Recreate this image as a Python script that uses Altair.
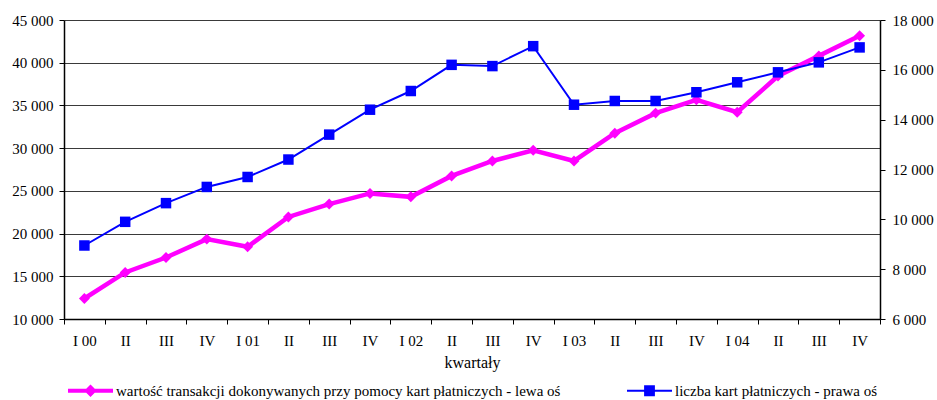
import altair as alt
import pandas as pd

quarters = ["I 00", "II", "III", "IV", "I 01", "II", "III", "IV", "I 02", "II", "III", "IV",
            "I 03", "II", "III", "IV", "I 04", "II", "III", "IV"]
transaction_value = [12400, 15450, 17200, 19350, 18450, 21950, 23450, 24700, 24300, 26750,
                     28500, 29750, 28500, 31750, 34100, 35650, 34200, 38450, 40800, 43150]
card_count = [8950, 9900, 10650, 11300, 11700, 12400, 13400, 14400, 15150, 16200,
              16150, 16950, 14600, 14750, 14750, 15100, 15500, 15900, 16300, 16900]
series_names = ["wartość transakcji dokonywanych przy pomocy kart płatniczych - lewa oś",
                "liczba kart płatniczych - prawa oś"]
left_ticks = [10000, 15000, 20000, 25000, 30000, 35000, 40000, 45000]
right_ticks = [6000, 8000, 10000, 12000, 14000, 16000, 18000]

MAGENTA = "#FF00FF"
BLUE = "#0000FF"
FONT = "Liberation Serif"

df = pd.DataFrame({"idx": list(range(len(quarters))), "tx": transaction_value, "cards": card_count})
legend_df = pd.DataFrame({"series": series_names})

label_array = "[" + ",".join("'" + q + "'" for q in quarters) + "]"
num_fmt = "replace(format(datum.value, ',d'), ',', ' ')"

x_enc = alt.X(
    "idx:O",
    scale=alt.Scale(type="band", paddingInner=0, paddingOuter=0),
    axis=alt.Axis(
        title="kwartały",
        labelExpr=label_array + "[datum.value]",
        labelAngle=0,
        tickBand="extent",
        tickSize=5,
        labelPadding=9,
        titlePadding=6,
        domainWidth=1.5,
    ),
)

y_left = alt.Y(
    "tx:Q",
    scale=alt.Scale(domain=[10000, 45000], nice=False, zero=False),
    axis=alt.Axis(
        title=None,
        values=left_ticks,
        labelExpr=num_fmt,
        grid=True,
        gridColor="#3a3a3a",
        gridWidth=1,
        tickSize=5,
        labelPadding=6,
        domainWidth=1.5,
    ),
)

y_right = alt.Y(
    "cards:Q",
    scale=alt.Scale(domain=[6000, 18000], nice=False, zero=False),
    axis=alt.Axis(
        title=None,
        orient="right",
        values=right_ticks,
        labelExpr=num_fmt,
        grid=False,
        tickSize=5,
        labelPadding=7,
        domainWidth=1.5,
    ),
)

base = alt.Chart(df)

line_a = base.mark_line(color=MAGENTA, strokeWidth=4.5).encode(x=x_enc, y=y_left)
pts_a = base.mark_point(shape="diamond", filled=True, size=120, color=MAGENTA, opacity=1).encode(x=x_enc, y=y_left)

path_magenta = "M-1,-0.09H1V0.09H-1Z M0,-0.28L0.28,0L0,0.28L-0.28,0Z"
path_blue = "M-1,-0.045H1V0.045H-1Z M-0.24,-0.24H0.24V0.24H-0.24Z"

leg = alt.Legend(
    title=None,
    orient="none",
    legendX=4,
    legendY=348,
    direction="horizontal",
    symbolSize=2025,
    symbolStrokeWidth=0,
    labelFont=FONT,
    labelFontSize=15,
    labelColor="black",
    labelLimit=1000,
    labelOffset=3,
    columnPadding=66,
)

legend_layer = alt.Chart(legend_df).mark_point(filled=True, opacity=1).encode(
    color=alt.Color("series:N", scale=alt.Scale(domain=series_names, range=[MAGENTA, BLUE]), legend=leg),
    shape=alt.Shape("series:N", scale=alt.Scale(domain=series_names, range=[path_magenta, path_blue]), legend=leg),
).transform_filter("false")

line_b = base.mark_line(color=BLUE, strokeWidth=2).encode(x=x_enc, y=y_right)
pts_b = base.mark_point(shape="square", filled=True, size=110, color=BLUE, opacity=1).encode(x=x_enc, y=y_right)

left = alt.layer(line_a, pts_a, legend_layer)
right = alt.layer(line_b, pts_b)

chart = (
    alt.layer(left, right)
    .resolve_scale(y="independent")
    .properties(
        width=816,
        height=299,
        background="white",
        autosize=alt.AutoSizeParams(type="none"),
        padding={"left": 64, "top": 20, "right": 57, "bottom": 81},
    )
    .configure_view(stroke=None)
    .configure_axis(
        labelFont=FONT,
        labelFontSize=15,
        labelColor="black",
        titleFont=FONT,
        titleFontSize=16,
        titleFontWeight="normal",
        titleColor="black",
        domainColor="black",
        tickColor="black",
    )
)

chart.save("out.html", embed_options={"renderer": "svg", "actions": False})
